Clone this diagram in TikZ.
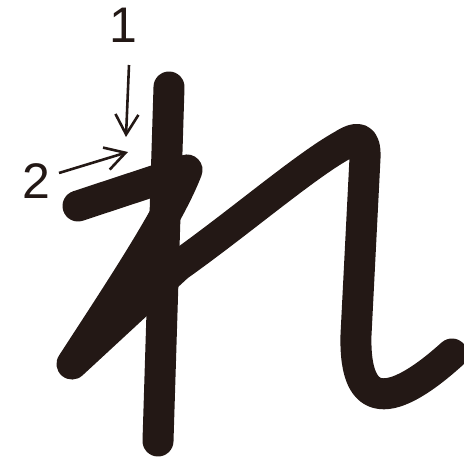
\documentclass[tikz,border=0pt]{standalone}
\usepackage{fontspec}
\setmainfont{Liberation Sans}
\usetikzlibrary{arrows.meta}
\definecolor{ink}{RGB}{35,24,21}
\begin{document}
\begin{tikzpicture}[x=1pt,y=-1pt,
  brush/.style={draw=ink,line width=31pt,line cap=round,line join=round},
  pointer/.style={draw=ink,line width=2.6pt,-{Straight Barb[length=20pt,width=23pt]}},
  numlabel/.style={text=ink,font=\fontsize{50}{50}\selectfont,inner sep=0pt}]
\useasboundingbox (0,0) rectangle (464,463);
% stroke 1
\draw[brush] (169,87) -- (158,441);
% stroke 2
\draw[brush] (78,206) -- (187,170) .. controls (170,215) and (120,290) .. (72,364)
  -- (178,266) .. controls (240,222) and (305,166) .. (343,145)
  .. controls (357,136) and (366,136) .. (365,158)
  -- (356,335) .. controls (354,412) and (392,408) .. (452,354);
% labels and arrows
\node[numlabel] (n1) at (123,25) {1};
\node[numlabel] (n2) at (36,181) {2};
\coordinate (a1s) at (129,65);
\coordinate (a1e) at (126,137);
\coordinate (a2s) at (59,173);
\coordinate (a2e) at (128,152);
\draw[pointer] (a1s) -- (a1e);
\draw[pointer] (a2s) -- (a2e);
\end{tikzpicture}
\end{document}
